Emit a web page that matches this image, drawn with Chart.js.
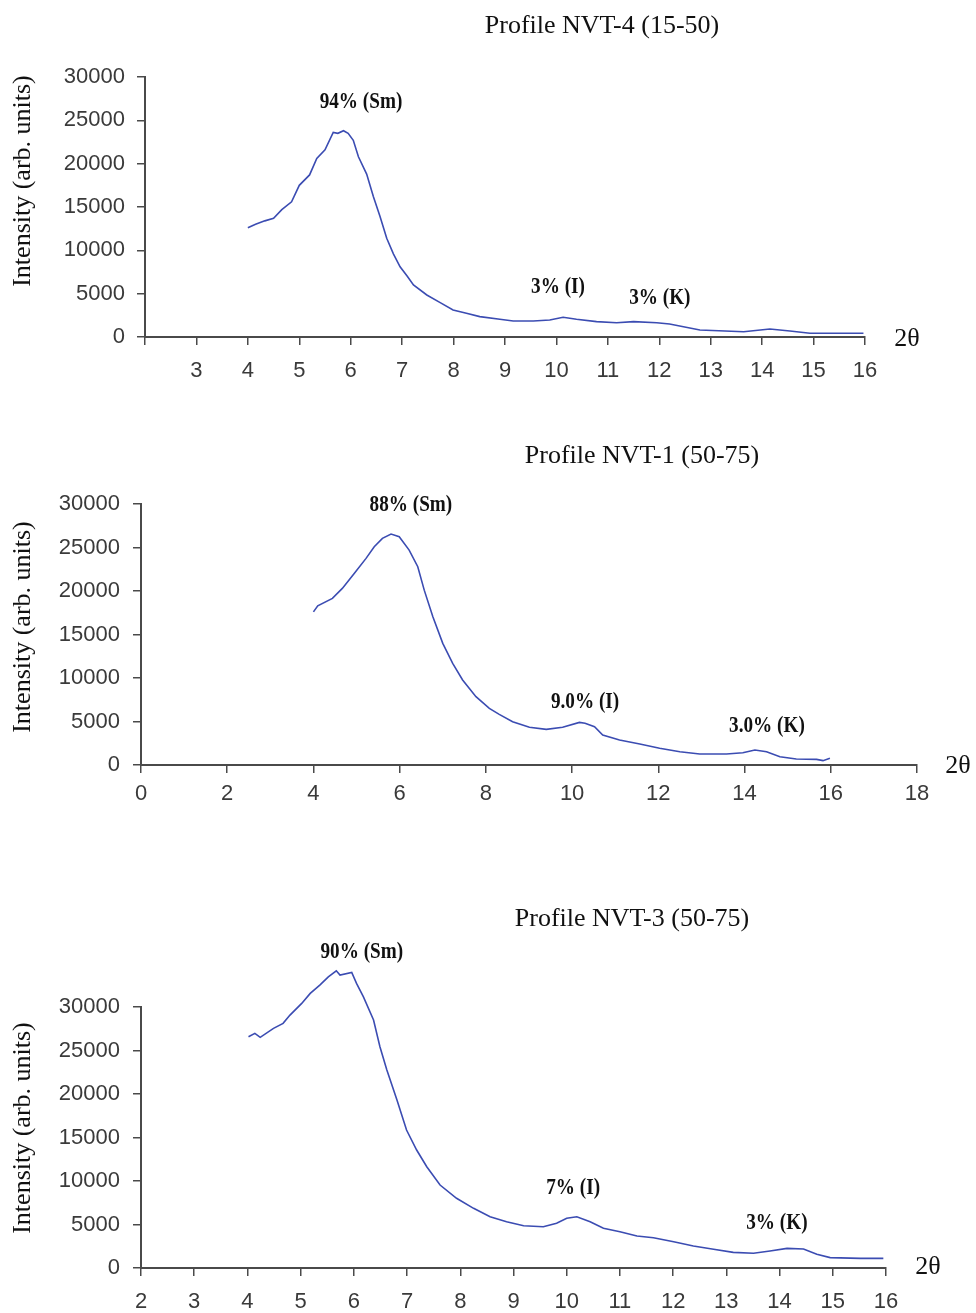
<!DOCTYPE html>
<html>
<head>
<meta charset="utf-8">
<script src="https://cdn.jsdelivr.net/npm/chart.js@4/dist/chart.umd.min.js"></script>
<style>
  html, body { margin:0; padding:0; background:#fff; }
  body { width:976px; height:1313px; position:relative; overflow:hidden; }
  canvas { position:absolute; left:0; }
  .txt { position:absolute; font-family:'Liberation Serif', 'Times New Roman', serif; color:#111; white-space:nowrap; line-height:1; transform:translate(-50%,-50%); }
  .rot { transform:translate(-50%,-50%) rotate(-90deg); }
</style>
</head>
<body>
<canvas id="c1" width="976" height="420" style="top:0px"></canvas>
<canvas id="c2" width="976" height="440" style="top:420px"></canvas>
<canvas id="c3" width="976" height="453" style="top:860px"></canvas>

<div class="txt" style="left:602px; top:25px; font-size:26px;">Profile NVT-4 (15-50)</div>
<div class="txt" style="left:642px; top:455px; font-size:26px;">Profile NVT-1 (50-75)</div>
<div class="txt" style="left:632px; top:918px; font-size:26px;">Profile NVT-3 (50-75)</div>

<div class="txt rot" style="left:22px; top:181px; font-size:26px;">Intensity (arb. units)</div>
<div class="txt rot" style="left:22px; top:627px; font-size:26px;">Intensity (arb. units)</div>
<div class="txt rot" style="left:22px; top:1128px; font-size:26px;">Intensity (arb. units)</div>

<div class="txt" style="left:907px; top:338px; font-size:26px;">2θ</div>
<div class="txt" style="left:958px; top:765px; font-size:26px;">2θ</div>
<div class="txt" style="left:928px; top:1266px; font-size:26px;">2θ</div>

<script>
// ---------- DATA ----------
// Profile NVT-4 (15-50)
const theta1 = [4.0,4.15,4.33,4.5,4.66,4.85,5.0,5.2,5.34,5.5,5.66,5.75,5.86,5.95,6.05,6.15,6.31,6.44,6.57,6.70,6.83,6.96,7.1,7.22,7.48,7.74,7.99,8.25,8.51,8.9,9.16,9.55,9.87,10.13,10.39,10.78,11.17,11.5,11.95,12.2,12.47,12.79,13.64,14.15,14.54,14.93,15.97];
const intensity1 = [12600,13000,13400,13700,14700,15600,17500,18700,20600,21600,23600,23500,23800,23500,22700,20800,18800,16200,13900,11400,9600,8100,7000,6000,4850,3960,3120,2750,2350,2040,1850,1850,1960,2270,2040,1770,1650,1770,1650,1500,1190,810,610,920,690,430,430];
const xTickLabels1 = [3,4,5,6,7,8,9,10,11,12,13,14,15,16];
const notes1 = ['94% (Sm)','3% (I)','3% (K)'];
const notesX1 = [6.2,10.03,12.01];
const notesY1 = [27100,5770,4500];

// Profile NVT-1 (50-75)
const theta2 = [4.0,4.1,4.44,4.67,4.95,5.22,5.41,5.6,5.8,5.99,6.22,6.42,6.57,6.77,7.0,7.23,7.46,7.77,8.08,8.31,8.62,9.01,9.4,9.78,10.17,10.3,10.52,10.71,11.1,11.57,12.03,12.5,12.96,13.58,13.96,14.24,14.51,14.82,15.2,15.67,15.82,15.98];
const intensity2 = [17600,18300,19150,20300,22030,23750,25080,26050,26540,26230,24700,22790,20100,17040,13980,11690,9770,7850,6510,5820,4980,4330,4100,4330,4900,4800,4400,3450,2870,2410,1920,1530,1260,1260,1410,1720,1530,950,690,650,500,770];
const xTickLabels2 = [0,2,4,6,8,10,12,14,16,18];
const notes2 = ['88% (Sm)','9.0% (I)','3.0% (K)'];
const notesX2 = [6.26,10.3,14.52];
const notesY2 = [29870,7240,4480];

// Profile NVT-3 (50-75)
const theta3 = [4.02,4.14,4.24,4.49,4.67,4.8,5.02,5.18,5.36,5.52,5.67,5.74,5.96,6.05,6.18,6.37,6.49,6.62,6.81,6.99,7.18,7.37,7.62,7.93,8.25,8.56,8.87,9.19,9.56,9.81,10.0,10.19,10.44,10.69,11.0,11.32,11.63,12.01,12.38,12.76,13.13,13.51,13.82,14.14,14.45,14.7,14.95,15.52,15.95];
const intensity3 = [26580,26970,26510,27540,28120,29070,30410,31560,32520,33470,34160,33670,33970,32710,31170,28500,25430,22750,19300,15860,13560,11640,9540,8010,6860,5890,5320,4860,4750,5140,5710,5890,5320,4560,4170,3680,3480,3020,2530,2150,1800,1690,1950,2260,2180,1570,1190,1110,1110];
const xTickLabels3 = [2,3,4,5,6,7,8,9,10,11,12,13,14,15,16];
const notes3 = ['90% (Sm)','7% (I)','3% (K)'];
const notesX3 = [6.15,10.12,13.95];
const notesY3 = [36310,9195,5170];

const yTickLabels = [0,5000,10000,15000,20000,25000,30000];

// ---------- RENDER ----------
Chart.defaults.font.family = "'Liberation Sans', Arial, sans-serif";
Chart.defaults.animation = false;

const notePlugin = {
  id: 'notes',
  afterDatasetsDraw(chart, args, o) {
    const ctx = chart.ctx, sx = chart.scales.x, sy = chart.scales.y;
    ctx.save();
    ctx.font = "bold 24px 'Liberation Serif', 'Times New Roman', serif";
    ctx.fillStyle = '#111';
    ctx.textAlign = 'center';
    ctx.textBaseline = 'middle';
    o.labels.forEach((t, i) => {
      const w = ctx.measureText(t).width * 0.8;
      ctx.fillText(t, sx.getPixelForValue(o.xs[i]), sy.getPixelForValue(o.ys[i]), w);
    });
    ctx.restore();
  }
};

function makeChart(id, xs, ys, xMin, xMax, xStep, xLabels, pad, xh, xPad, yPad, notes, nx, ny) {
  const axisCol = '#4a4a4a';
  return new Chart(document.getElementById(id), {
    type: 'line',
    data: {
      datasets: [{
        data: xs.map((v, i) => ({x: v, y: ys[i]})),
        borderColor: '#3b4cb2',
        borderWidth: 1.6,
        pointRadius: 0,
        tension: 0,
        fill: false,
        clip: false
      }]
    },
    options: {
      responsive: false,
      devicePixelRatio: 1,
      layout: { padding: pad },
      plugins: {
        legend: { display: false },
        tooltip: { enabled: false },
        notes: { labels: notes, xs: nx, ys: ny }
      },
      scales: {
        x: {
          type: 'linear',
          min: xMin, max: xMax,
          afterFit: s => { s.height = xh; },
          grid: { display: true, drawOnChartArea: false, drawTicks: true, tickLength: 8, color: axisCol, lineWidth: 1.5 },
          border: { display: true, color: axisCol, width: 2 },
          ticks: {
            stepSize: xStep, autoSkip: false, maxRotation: 0, padding: xPad,
            color: '#3a3a3a', font: { size: 22 },
            callback: v => xLabels.includes(v) ? String(v) : ''
          }
        },
        y: {
          min: 0, max: 30000,
          afterFit: s => { s.width = 100; },
          grid: { display: true, drawOnChartArea: false, drawTicks: true, tickLength: 8, color: axisCol, lineWidth: 1.5 },
          border: { display: true, color: axisCol, width: 2 },
          ticks: {
            stepSize: 5000, padding: yPad,
            color: '#3a3a3a', font: { size: 22 },
            callback: v => yTickLabels.includes(v) ? String(v) : ''
          }
        }
      }
    },
    plugins: [notePlugin]
  });
}

makeChart('c1', theta1, intensity1, 2, 16, 1, xTickLabels1,
  {left: 45, right: 111, top: 77, bottom: 33}, 50, 13, 12, notes1, notesX1, notesY1);
makeChart('c2', theta2, intensity2, 0, 18, 2, xTickLabels2,
  {left: 41, right: 59, top: 84, bottom: 45}, 50, 8, 13, notes2, notesX2, notesY2);
makeChart('c3', theta3, intensity3, 2, 16, 1, xTickLabels3,
  {left: 41, right: 90, top: 147, bottom: 0}, 45, 13, 13, notes3, notesX3, notesY3);
</script>
</body>
</html>
